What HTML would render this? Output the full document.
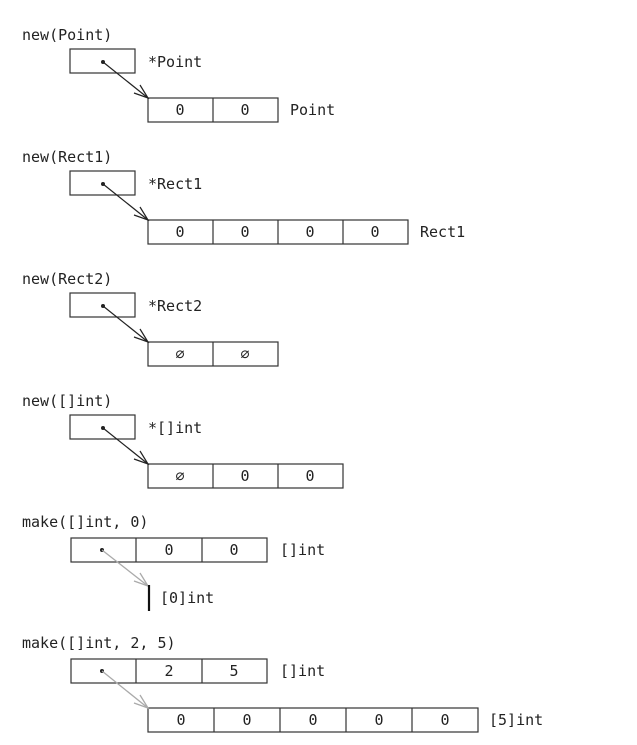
<!DOCTYPE html>
<html><head><meta charset="utf-8"><style>
html,body{margin:0;padding:0;background:#fff;}
svg text{font-family:"DejaVu Sans Mono","Liberation Mono",monospace;font-size:15px;fill:#222;}
</style></head><body>
<svg width="637" height="740" viewBox="0 0 637 740" xmlns="http://www.w3.org/2000/svg">
<g fill="none" stroke="#333" stroke-width="1.2">
<!-- Point -->
<rect x="70" y="49" width="65" height="24"/>
<rect x="148" y="98" width="130" height="24"/><line x1="213" y1="98" x2="213" y2="122"/>
<!-- Rect1 -->
<rect x="70" y="171" width="65" height="24"/>
<rect x="148" y="220" width="260" height="24"/><line x1="213" y1="220" x2="213" y2="244"/><line x1="278" y1="220" x2="278" y2="244"/><line x1="343" y1="220" x2="343" y2="244"/>
<!-- Rect2 -->
<rect x="70" y="293" width="65" height="24"/>
<rect x="148" y="342" width="130" height="24"/><line x1="213" y1="342" x2="213" y2="366"/>
<!-- []int -->
<rect x="70" y="415" width="65" height="24"/>
<rect x="148" y="464" width="195" height="24"/><line x1="213" y1="464" x2="213" y2="488"/><line x1="278" y1="464" x2="278" y2="488"/>
<!-- make 0 -->
<rect x="71" y="538" width="196" height="24"/><line x1="136" y1="538" x2="136" y2="562"/><line x1="202" y1="538" x2="202" y2="562"/>
<!-- make 2,5 -->
<rect x="71" y="659" width="196" height="24"/><line x1="136" y1="659" x2="136" y2="683"/><line x1="202" y1="659" x2="202" y2="683"/>
<rect x="148" y="708" width="330" height="24"/><line x1="214" y1="708" x2="214" y2="732"/><line x1="280" y1="708" x2="280" y2="732"/><line x1="346" y1="708" x2="346" y2="732"/><line x1="412" y1="708" x2="412" y2="732"/>
</g>
<!-- black arrows -->
<g stroke="#222" stroke-width="1.2" fill="none">
<line x1="103" y1="62" x2="148" y2="98"/><polyline points="134,93 148,98 140,85"/>
<line x1="103" y1="184" x2="148" y2="220"/><polyline points="134,215 148,220 140,207"/>
<line x1="103" y1="306" x2="148" y2="342"/><polyline points="134,337 148,342 140,329"/>
<line x1="103" y1="428" x2="148" y2="464"/><polyline points="134,459 148,464 140,451"/>
</g>
<g fill="#222"><circle cx="103" cy="62" r="2"/><circle cx="103" cy="184" r="2"/><circle cx="103" cy="306" r="2"/><circle cx="103" cy="428" r="2"/>
<circle cx="102" cy="550" r="2"/><circle cx="102" cy="671" r="2"/></g>
<!-- gray arrows -->
<g stroke="#aaa" stroke-width="1.3" fill="none">
<line x1="102" y1="550" x2="148" y2="586"/><polyline points="134,581 148,586 140,573"/>
<line x1="102" y1="671" x2="148" y2="708"/><polyline points="134,703 148,708 140,695"/>
</g>
<line x1="149" y1="585" x2="149" y2="611" stroke="#111" stroke-width="2.2"/>
<!-- labels -->
<text x="22" y="40">new(Point)</text>
<text x="148" y="67">*Point</text>
<text x="290" y="115">Point</text>
<text x="22" y="162">new(Rect1)</text>
<text x="148" y="189">*Rect1</text>
<text x="420" y="237">Rect1</text>
<text x="22" y="284">new(Rect2)</text>
<text x="148" y="311">*Rect2</text>
<text x="22" y="406">new([]int)</text>
<text x="148" y="433">*[]int</text>
<text x="22" y="527">make([]int, 0)</text>
<text x="280" y="555">[]int</text>
<text x="160" y="603">[0]int</text>
<text x="22" y="648">make([]int, 2, 5)</text>
<text x="280" y="676">[]int</text>
<text x="489" y="725">[5]int</text>
<g text-anchor="middle">
<text x="180" y="115">0</text><text x="245" y="115">0</text>
<text x="180" y="237">0</text><text x="245" y="237">0</text><text x="310" y="237">0</text><text x="375" y="237">0</text>
<text x="180" y="359" font-size="12">⌀</text><text x="245" y="359" font-size="12">⌀</text>
<text x="180" y="481" font-size="12">⌀</text><text x="245" y="481">0</text><text x="310" y="481">0</text>
<text x="169" y="555">0</text><text x="234" y="555">0</text>
<text x="169" y="676">2</text><text x="234" y="676">5</text>
<text x="181" y="725">0</text><text x="247" y="725">0</text><text x="313" y="725">0</text><text x="379" y="725">0</text><text x="445" y="725">0</text>
</g>
</svg>
</body></html>
